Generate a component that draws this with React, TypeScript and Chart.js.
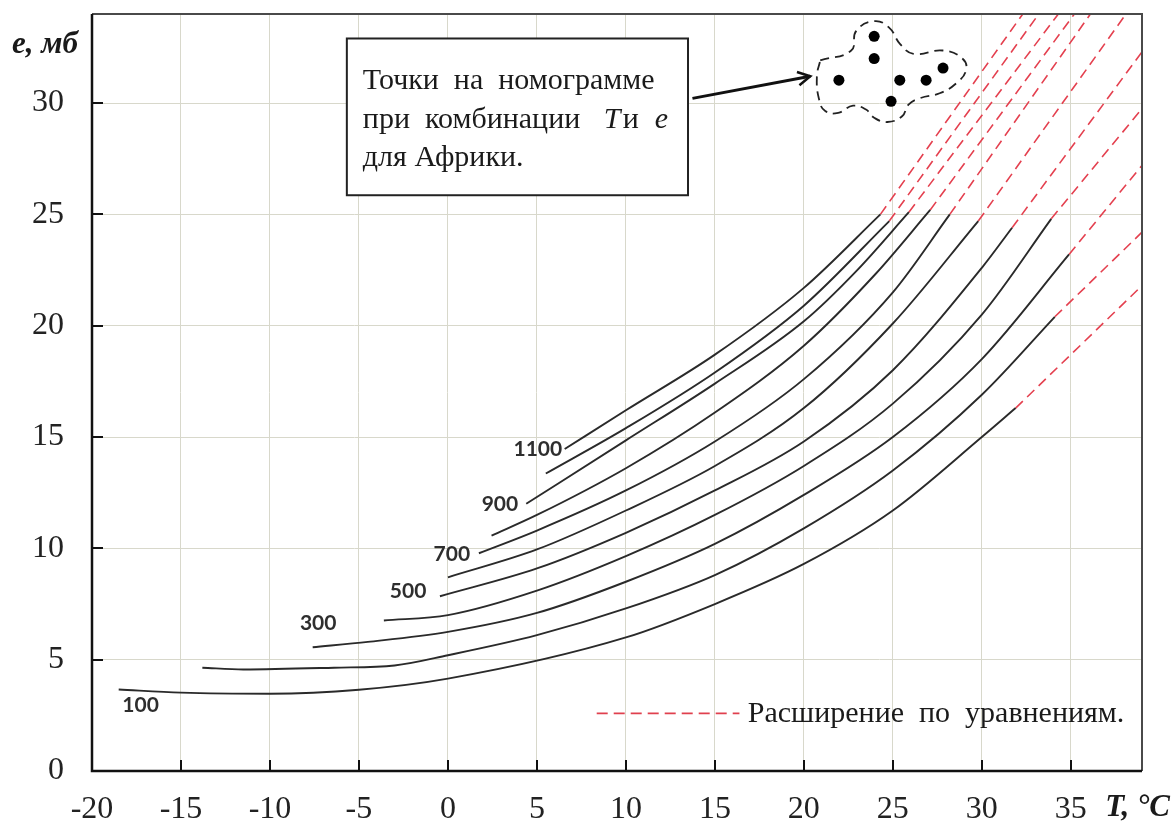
import React, { useEffect, useRef } from 'react';
import { Chart, registerables } from 'chart.js';

Chart.register(...registerables);

// ---- data (T in °C, e in mb) ----
const pressureLevels = [100, 200, 300, 400, 500, 600, 700, 800, 900, 1000, 1100];

const curve100 = [[-18.5, 3.66], [-15, 3.52], [-10, 3.47], [-5, 3.65], [0, 4.15], [10, 6.0], [15, 7.5], [20, 9.3], [25, 11.7], [30, 15.0], [31.9, 16.3]];
const curve200 = [[-13.8, 4.64], [-11.5, 4.56], [-6.4, 4.64], [-3, 4.74], [0, 5.2], [5, 6.1], [10, 7.3], [15, 8.8], [20, 10.9], [25, 13.5], [30, 16.9], [34.1, 20.4]];
const curve300 = [[-7.6, 5.56], [-4.5, 5.8], [0, 6.25], [5, 7.1], [10, 8.5], [15, 10.2], [20, 12.4], [25, 15.0], [30, 18.5], [34.9, 23.2]];
const curve400 = [[-3.6, 6.76], [0, 7.0], [5, 8.1], [10, 9.65], [15, 11.5], [20, 13.7], [25, 16.5], [30, 20.5], [33.9, 24.8]];
const curve500 = [[-0.45, 7.85], [5, 9.1], [10, 10.7], [15, 12.6], [20, 14.8], [25, 18.0], [30, 22.6], [31.7, 24.4]];
const curve600 = [[0, 8.7], [5, 9.95], [10, 11.7], [15, 13.7], [20, 16.3], [25, 20.1], [29.8, 24.7]];
const curve700 = [[1.74, 9.78], [5, 10.8], [10, 12.6], [15, 14.8], [20, 17.6], [25, 21.5], [28.2, 25.0]];
const curve800 = [[2.45, 10.57], [5, 11.5], [10, 13.6], [15, 16.1], [20, 19.1], [24, 22.3], [27.1, 25.2]];
const curve900 = [[4.4, 12.0], [10, 14.85], [15, 17.4], [20, 20.2], [23, 22.5], [25.9, 25.1]];
const curve1000 = [[5.5, 13.36], [10, 15.4], [15, 17.9], [20, 20.9], [24.8, 24.7]];
const curve1100 = [[6.56, 14.46], [10, 16.2], [15, 18.7], [20, 21.7], [24.3, 25.0]];

const ext100 = [[31.9, 16.3], [39, 21.8]];
const ext200 = [[34.1, 20.4], [39, 24.2]];
const ext300 = [[34.9, 23.2], [39, 27.2]];
const ext400 = [[33.9, 24.8], [39, 29.75]];
const ext500 = [[31.7, 24.4], [39, 32.3]];
const ext600 = [[29.8, 24.7], [38.1, 34]];
const ext700 = [[28.2, 25.0], [36.1, 34]];
const ext800 = [[27.1, 25.2], [35.2, 34]];
const ext900 = [[25.9, 25.1], [34.3, 34]];
const ext1000 = [[24.8, 24.7], [33.2, 34]];
const ext1100 = [[24.3, 25.0], [32.3, 34]];

const africaPoints = [[23.95, 33.0], [23.95, 32.0], [21.97, 31.03], [25.39, 31.03], [26.87, 31.03], [27.82, 31.57], [24.9, 30.08]];

const blobOutline = [[20.92, 31.92], [22.66, 32.36], [22.94, 33.24], [23.95, 33.68], [24.79, 33.39], [25.41, 32.65], [26.16, 32.21], [27.82, 32.36], [28.92, 31.99], [29.11, 31.47], [28.55, 30.88], [27.63, 30.44], [26.53, 30.22], [25.88, 29.93], [25.52, 29.41], [24.69, 29.15], [23.95, 29.34], [23.49, 29.71], [22.76, 29.88], [21.93, 29.56], [21.2, 29.64], [20.86, 30.15], [20.73, 31.18], [20.92, 31.92]];

const xTickValues = [-20, -15, -10, -5, 0, 5, 10, 15, 20, 25, 30, 35];
const yTickValues = [0, 5, 10, 15, 20, 25, 30];

const labelledLevels = [100, 300, 500, 700, 900, 1100];
const labelAnchors = [[-17.27, 2.95], [-7.29, 6.62], [-2.24, 8.06], [0.22, 9.72], [2.92, 11.96], [5.05, 14.43]];

const boxText1 = 'Точки  на  номограмме';
const boxText2 = 'при  комбинации';
const legendText = 'Расширение  по  уравнениям.';

const solidCurves = [curve100, curve200, curve300, curve400, curve500, curve600, curve700, curve800, curve900, curve1000, curve1100];
const extensions = [ext100, ext200, ext300, ext400, ext500, ext600, ext700, ext800, ext900, ext1000, ext1100];

const SERIF = '"Liberation Serif", "Times New Roman", serif';

const toXY = (arr: number[][]) => arr.map(([x, y]) => ({ x, y }));

const overlayPlugin = {
  id: 'overlay',
  afterDatasetsDraw(chart: any) {
    const { ctx, chartArea: a, scales } = chart;
    const xs = scales.x;
    const ys = scales.y;
    const px = (v: number) => xs.getPixelForValue(v);
    const py = (v: number) => ys.getPixelForValue(v);
    ctx.save();

    // inward tick marks
    ctx.strokeStyle = '#111';
    ctx.lineWidth = 2;
    xTickValues.forEach((v) => {
      const X = Math.round(px(v));
      if (X <= a.left + 1) return;
      ctx.beginPath();
      ctx.moveTo(X, a.bottom);
      ctx.lineTo(X, a.bottom - 11);
      ctx.stroke();
    });
    yTickValues.forEach((v) => {
      const Y = Math.round(py(v));
      if (Y >= a.bottom - 1) return;
      ctx.beginPath();
      ctx.moveTo(a.left, Y);
      ctx.lineTo(a.left + 11, Y);
      ctx.stroke();
    });

    // plot frame
    ctx.strokeStyle = '#4a4a4a';
    ctx.lineWidth = 2;
    ctx.beginPath();
    ctx.moveTo(a.left, a.top);
    ctx.lineTo(a.right, a.top);
    ctx.lineTo(a.right, a.bottom);
    ctx.stroke();
    ctx.strokeStyle = '#111';
    ctx.lineWidth = 2.5;
    ctx.beginPath();
    ctx.moveTo(a.left, a.top);
    ctx.lineTo(a.left, a.bottom);
    ctx.lineTo(a.right, a.bottom);
    ctx.stroke();

    // curve labels
    ctx.fillStyle = '#2e2e2e';
    ctx.font = 'bold 21px Lato, "Noto Sans", sans-serif';
    ctx.textAlign = 'center';
    ctx.textBaseline = 'middle';
    labelledLevels.forEach((lvl, i) => {
      const [t, e] = labelAnchors[i];
      ctx.fillText(String(lvl), px(t), py(e));
    });

    // annotation box
    const bx0 = px(-5.68), bx1 = px(13.49), by0 = py(32.9), by1 = py(25.86);
    ctx.fillStyle = '#fff';
    ctx.fillRect(bx0, by0, bx1 - bx0, by1 - by0);
    ctx.strokeStyle = '#222';
    ctx.lineWidth = 2;
    ctx.strokeRect(bx0, by0, bx1 - bx0, by1 - by0);
    ctx.fillStyle = '#1a1a1a';
    ctx.textAlign = 'left';
    ctx.textBaseline = 'alphabetic';
    const tx = bx0 + 16;
    ctx.font = `30px ${SERIF}`;
    ctx.fillText(boxText1, tx, by0 + 51);
    ctx.fillText(boxText2, tx, by0 + 90);
    ctx.font = `italic 30px ${SERIF}`;
    ctx.fillText('T', tx + 241, by0 + 90);
    ctx.font = `30px ${SERIF}`;
    ctx.fillText('и', tx + 260, by0 + 90);
    ctx.font = `italic 30px ${SERIF}`;
    ctx.fillText('e', tx + 292, by0 + 90);
    ctx.font = `30px ${SERIF}`;
    ctx.fillText('для Африки.', tx, by0 + 128);

    // arrow
    const ax0 = px(13.74), ay0 = py(30.21), ax1 = px(20.36), ay1 = py(31.2);
    ctx.strokeStyle = '#111';
    ctx.lineWidth = 3;
    ctx.beginPath();
    ctx.moveTo(ax0, ay0);
    ctx.lineTo(ax1, ay1);
    ctx.stroke();
    const ang = Math.atan2(ay1 - ay0, ax1 - ax0);
    ctx.lineWidth = 2.5;
    ctx.beginPath();
    ctx.moveTo(ax1 - 14 * Math.cos(ang - 0.5), ay1 - 14 * Math.sin(ang - 0.5));
    ctx.lineTo(ax1, ay1);
    ctx.lineTo(ax1 - 14 * Math.cos(ang + 0.5), ay1 - 14 * Math.sin(ang + 0.5));
    ctx.stroke();

    // legend
    const ly = py(2.59);
    ctx.strokeStyle = '#e0404e';
    ctx.lineWidth = 1.6;
    ctx.setLineDash([11, 6]);
    ctx.beginPath();
    ctx.moveTo(px(8.36), ly);
    ctx.lineTo(px(16.38), ly);
    ctx.stroke();
    ctx.setLineDash([]);
    ctx.fillStyle = '#1a1a1a';
    ctx.font = `30px ${SERIF}`;
    ctx.textBaseline = 'middle';
    ctx.fillText(legendText, px(16.85), ly + 1);

    // axis titles
    ctx.font = `italic bold 31px ${SERIF}`;
    ctx.textBaseline = 'alphabetic';
    ctx.textAlign = 'left';
    ctx.fillText('e, мб', 12, 53);
    ctx.textAlign = 'right';
    ctx.fillText('T, °C', 1170, 816);

    ctx.restore();
  },
};

export default function App() {
  const canvasRef = useRef<HTMLCanvasElement | null>(null);

  useEffect(() => {
    document.body.style.margin = '0';
    const canvas = canvasRef.current;
    if (!canvas) return;

    const datasets: any[] = [];
    solidCurves.forEach((c, i) => {
      datasets.push({
        label: `${pressureLevels[i]}`,
        data: toXY(c),
        showLine: true,
        borderColor: '#2a2a2a',
        borderWidth: 1.9,
        pointRadius: 0,
        cubicInterpolationMode: 'monotone',
        fill: false,
      });
    });
    extensions.forEach((c, i) => {
      datasets.push({
        label: `ext ${pressureLevels[i]}`,
        data: toXY(c),
        showLine: true,
        borderColor: '#e4404f',
        borderWidth: 1.6,
        borderDash: [10, 6],
        pointRadius: 0,
        fill: false,
      });
    });
    datasets.push({
      label: 'blob',
      data: toXY(blobOutline),
      showLine: true,
      borderColor: '#222',
      borderWidth: 1.8,
      borderDash: [9, 6],
      tension: 0.45,
      pointRadius: 0,
      fill: false,
    });
    datasets.push({
      label: 'Africa',
      data: toXY(africaPoints),
      showLine: false,
      pointRadius: 5.5,
      pointBackgroundColor: '#000',
      pointBorderColor: '#000',
      pointBorderWidth: 0,
    });

    const chart = new Chart(canvas, {
      type: 'scatter',
      data: { datasets },
      plugins: [overlayPlugin],
      options: {
        animation: false,
        responsive: true,
        maintainAspectRatio: false,
        layout: { padding: { left: 0, top: 14, right: 32, bottom: 0 } },
        plugins: { legend: { display: false }, tooltip: { enabled: false } },
        scales: {
          x: {
            type: 'linear',
            min: -20,
            max: 39,
            afterBuildTicks: (axis: any) => {
              axis.ticks = xTickValues.map((v) => ({ value: v }));
            },
            afterFit: (axis: any) => {
              axis.height = 52;
              axis.paddingLeft = 0;
              axis.paddingRight = 0;
              axis.paddingTop = 0;
              axis.paddingBottom = 0;
            },
            grid: { color: '#d8d8cb', lineWidth: 1, drawTicks: false },
            border: { display: false },
            ticks: {
              padding: 19,
              color: '#222',
              font: { family: SERIF, size: 32 },
              maxRotation: 0,
            },
          },
          y: {
            type: 'linear',
            min: 0,
            max: 34,
            afterBuildTicks: (axis: any) => {
              axis.ticks = yTickValues.map((v) => ({ value: v }));
            },
            afterFit: (axis: any) => {
              axis.width = 92;
              axis.paddingLeft = 0;
              axis.paddingRight = 0;
              axis.paddingTop = 0;
              axis.paddingBottom = 0;
            },
            grid: { color: '#d8d8cb', lineWidth: 1, drawTicks: false },
            border: { display: false },
            ticks: {
              padding: 28,
              color: '#222',
              font: { family: SERIF, size: 32 },
            },
          },
        },
      },
    });
    return () => chart.destroy();
  }, []);

  return (
    <div style={{ width: 1174, height: 823, position: 'relative', background: '#fff' }}>
      <canvas ref={canvasRef} />
    </div>
  );
}
